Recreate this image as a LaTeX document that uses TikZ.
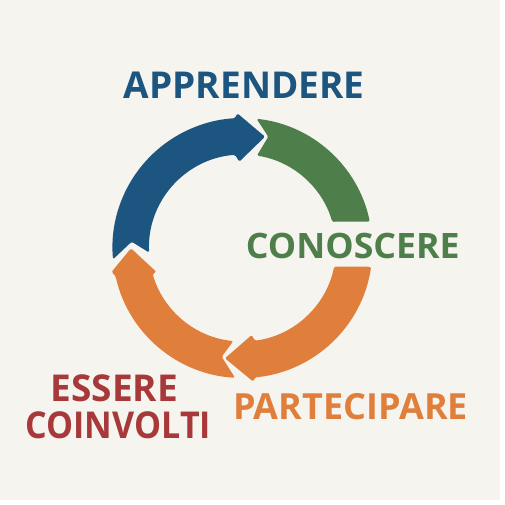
\documentclass[tikz,border=0pt]{standalone}
\usepackage{fontspec}
\setmainfont{Open Sans}
\definecolor{bgc}{RGB}{246,244,239}
\definecolor{cblue}{RGB}{28,85,128}
\definecolor{cgreen}{RGB}{78,127,75}
\definecolor{corange}{RGB}{224,127,60}
\definecolor{cred}{RGB}{168,57,58}
\tikzset{
  seg/.style={rounded corners=1.5pt},
  lbl/.style={anchor=base, inner sep=0pt, font=\fontsize{#1}{#1}\selectfont\bfseries},
}
\begin{document}
\begin{tikzpicture}[x=1pt,y=1pt]
\useasboundingbox (-242.5,-257) rectangle (262.5,248);
\fill[white] (-242.5,-257) rectangle (262.5,248);
\fill[bgc] (-242.5,-252) rectangle (257.5,248);

% blue arrow (left -> top)
\fill[cblue, seg] (185:130) arc[start angle=185,end angle=93.3,radius=130]
  -- (-5.2,134.7) -- (22.5,111.3) -- (-3.2,86.3)
  -- (94.6:93.5) arc[start angle=94.6,end angle=182.8,radius=93.5]
  -- (-110.8,6.3) -- cycle;

% green segment (top -> right)
\fill[cgreen, seg] (83.8:130) arc[start angle=83.8,end angle=11.7,radius=130]
  -- (16.3:93.5) arc[start angle=16.3,end angle=81.1,radius=93.5]
  -- (25.8,111.3) -- cycle;

% orange arrow (right -> bottom)
\fill[corange, seg] (-8.3:130) arc[start angle=-8.3,end angle=-84.5,radius=130]
  -- (10.8,-133.7) -- (-17.5,-110.3) -- (9.2,-87)
  -- (-82.4:93.5) arc[start angle=-82.4,end angle=-11.5,radius=93.5] -- cycle;

% orange arrow (bottom -> left)
\fill[corange, seg] (266.7:130) arc[start angle=266.7,end angle=192.5,radius=130]
  -- (-131,-24) -- (-111.5,-0.3) -- (-86,-24)
  -- (196:93.5) arc[start angle=196,end angle=264.4,radius=93.5]
  -- (-20.8,-108.7) -- cycle;

\node[lbl=37, text=cblue] (app) at (1.7,149.7) {APPRENDERE};
\node[lbl=35, text=cgreen] (con) at (110.3,-10.3) {\scalebox{1.02}[1]{CONOSCERE}};
\node[lbl=36, text=corange] (par) at (108,-171.3) {PARTECIPARE};
\node[lbl=37, text=cred] (ess) at (-128.3,-153.7) {ESSERE};
\node[lbl=37, text=cred] (coi) at (-124.2,-190.3) {\scalebox{0.92}[1]{COINVOLTI}};
\end{tikzpicture}
\end{document}
